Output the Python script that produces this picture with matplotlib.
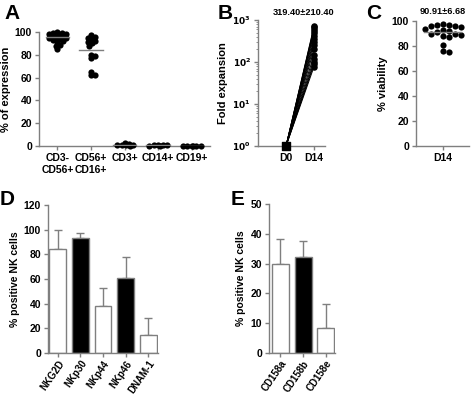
import numpy as np
import matplotlib
matplotlib.use("Agg")
import matplotlib.pyplot as plt

plt.rcParams["font.family"] = ["Liberation Sans", "DejaVu Sans"]
plt.rcParams["font.weight"] = "bold"
plt.rcParams["font.size"] = 7.5
plt.rcParams["mathtext.default"] = "bf"

# ---- data ----
a_cats = ["CD3-\nCD56+", "CD56+\nCD16+", "CD3+", "CD14+", "CD19+"]
a_vals = [
    [100, 99, 99, 98, 98, 97, 97, 97, 96, 96, 95, 95, 94, 94, 93, 92, 91, 89, 88, 85],
    [97, 96, 95, 93, 92, 91, 90, 88, 80, 79, 77, 65, 62, 62],
    [0.5, 0.8, 1.0, 1.2, 1.8, 2.5, 0.3],
    [0.3, 0.5, 0.8, 1.0, 0.6, 0.4],
    [0.1, 0.2, 0.3, 0.2, 0.1, 0.3],
]
a_means = [95.5, 84, 1.0, 0.6, 0.2]

b_d14 = [720, 680, 620, 560, 500, 420, 350, 300, 250, 200, 150, 120, 100, 90, 78]
b_text = "319.40±210.40"

c_vals = [98, 97, 97, 96, 96, 95, 94, 93, 92, 91, 90, 90, 89, 88, 87, 81, 76, 75]
c_mean = 90.91
c_text = "90.91±6.68"

d_cats = ["NKG2D", "NKp30", "NKp44", "NKp46", "DNAM-1"]
d_vals = [84, 93, 38, 61, 15]
d_err = [16, 4, 15, 17, 13]
d_fill = ["white", "black", "white", "black", "white"]

e_cats = ["CD158a", "CD158b", "CD158e"]
e_vals = [30, 32.3, 8.3]
e_err = [8.3, 5.2, 8.0]
e_fill = ["white", "black", "white"]

W, H = 472, 394
fig = plt.figure(figsize=(W / 100, H / 100), dpi=100)
GRAY = "#7f7f7f"


def add_ax(l, t, r, b):
    return fig.add_axes([l / W, 1 - b / H, (r - l) / W, (b - t) / H])


def style(ax):
    for s in ["top", "right"]:
        ax.spines[s].set_visible(False)
    for s in ["left", "bottom"]:
        ax.spines[s].set_color(GRAY)
        ax.spines[s].set_linewidth(1.0)
    ax.tick_params(axis="both", color=GRAY, length=3, width=1, pad=2, labelsize=7.5)
    for lab in ax.get_xticklabels() + ax.get_yticklabels():
        lab.set_fontweight("bold")


def swarm(vals, py, px, d=5.5, k=0.6, maxw=10):
    # beeswarm offsets worked out in pixels, returned in axis x units
    order = np.argsort(vals)[::-1]
    placed = []
    offs = np.zeros(len(vals))
    step = 1.5
    cands = [0.0]
    j = 1
    while j * step <= maxw:
        cands += [j * step, -j * step]
        j += 1
    for i in order:
        y = vals[i] * py
        best, bestd = 0.0, -1
        for c in cands:
            md = min([np.hypot(c - a, y - b) for a, b in placed] or [99])
            if md >= k * d:
                best = c
                break
            if md > bestd:
                best, bestd = c, md
        offs[i] = best
        placed.append((best, y))
    return offs / px


# ---- A ----
ax = add_ax(39, 32, 210, 146)
for i, v in enumerate(a_vals):
    v = np.array(v, float)
    offs = swarm(v, 1.14, 33.75, k=0.6, maxw=10)
    ax.scatter(i + offs, v, s=20, color="black", zorder=3, clip_on=False, linewidths=0)
    ax.plot([i - 0.35, i + 0.35], [a_means[i]] * 2, color=GRAY, lw=1, zorder=4)
ax.set_xlim(-0.55, 4.55)
ax.set_ylim(0, 100)
ax.set_yticks([0, 20, 40, 60, 80, 100])
ax.set_xticks(range(5))
ax.set_xticklabels(a_cats)
ax.set_ylabel("% of expression", fontweight="bold", labelpad=3, fontsize=8)
style(ax)
fig.text(4 / W, 1 - 19 / H, "A", fontsize=15, fontweight="bold")

# ---- B ----
ax = add_ax(258, 20, 325, 146)
for v in b_d14:
    ax.plot([0, 1], [1, v], color="black", lw=0.7, zorder=2)
ax.scatter([1] * len(b_d14), b_d14, s=22, color="black", zorder=3, linewidths=0)
ax.scatter([0], [1], marker="s", s=28, color="black", zorder=4, clip_on=False)
ax.set_yscale("log")
ax.set_ylim(1, 1000)
ax.set_xlim(-1.0, 1.39)
ax.set_xticks([0, 1])
ax.set_xticklabels(["D0", "D14"])
ax.set_yticks([1, 10, 100, 1000])
ax.set_yticklabels([r"$10^0$", r"$10^1$", r"$10^2$", r"$10^3$"])
ax.tick_params(axis="y", which="minor", color=GRAY, length=1.5, width=0.6)
style(ax)
ax.tick_params(axis="y", labelsize=6.5)
ax.set_ylabel("Fold expansion", fontweight="bold", labelpad=3, fontsize=8)
ax.text(0.62, 1150, b_text, ha="center", va="bottom", fontsize=6.6, fontweight="bold")
fig.text(218 / W, 1 - 19 / H, "B", fontsize=15, fontweight="bold")

# ---- C ----
ax = add_ax(416, 21, 469, 146)
cv = np.array(c_vals, float)
offs = swarm(cv, 1.25, 26.5, k=1.0, maxw=19)
ax.scatter(offs, cv, s=20, color="black", zorder=3, clip_on=False, linewidths=0)
ax.plot([-0.7, 0.7], [c_mean] * 2, color=GRAY, lw=1, zorder=4)
ax.set_xlim(-1, 1)
ax.set_ylim(0, 100)
ax.set_yticks([0, 20, 40, 60, 80, 100])
ax.set_xticks([0])
ax.set_xticklabels(["D14"])
ax.set_ylabel("% viability", fontweight="bold", labelpad=3, fontsize=8)
style(ax)
ax.text(0, 104, c_text, ha="center", va="bottom", fontsize=6.6, fontweight="bold")
fig.text(366 / W, 1 - 19 / H, "C", fontsize=15, fontweight="bold")

# ---- D ----
ax = add_ax(48, 205, 158, 353)
x = np.arange(len(d_cats))
ax.bar(x, d_vals, width=0.75, color=d_fill, edgecolor=GRAY, linewidth=1, zorder=2)
ax.errorbar(x, d_vals, yerr=[np.zeros(len(d_err)), d_err], fmt="none", ecolor=GRAY,
            elinewidth=1, capsize=3, capthick=1, zorder=1)
ax.set_xlim(-0.44, 4.44)
ax.set_ylim(0, 120)
ax.set_yticks(range(0, 121, 20))
ax.set_xticks(x)
ax.set_xticklabels(d_cats, rotation=55, ha="right", rotation_mode="anchor")
ax.set_ylabel("% positive NK cells", fontweight="bold", labelpad=3)
style(ax)
ax.tick_params(axis="x", labelsize=7, pad=1)
fig.text(0 / W, 1 - 205 / H, "D", fontsize=15, fontweight="bold")

# ---- E ----
ax = add_ax(269, 204, 335, 353)
x = np.arange(len(e_cats))
ax.bar(x, e_vals, width=0.75, color=e_fill, edgecolor=GRAY, linewidth=1, zorder=2)
ax.errorbar(x, e_vals, yerr=[np.zeros(len(e_err)), e_err], fmt="none", ecolor=GRAY,
            elinewidth=1, capsize=3, capthick=1, zorder=1)
ax.set_xlim(-0.5, 2.4)
ax.set_ylim(0, 50)
ax.set_yticks(range(0, 51, 10))
ax.set_xticks(x)
ax.set_xticklabels(e_cats, rotation=55, ha="right", rotation_mode="anchor")
ax.set_ylabel("% positive NK cells", fontweight="bold", labelpad=3)
style(ax)
ax.tick_params(axis="x", labelsize=7, pad=1)
fig.text(231 / W, 1 - 205 / H, "E", fontsize=15, fontweight="bold")

fig.savefig("out.png", dpi=100)
